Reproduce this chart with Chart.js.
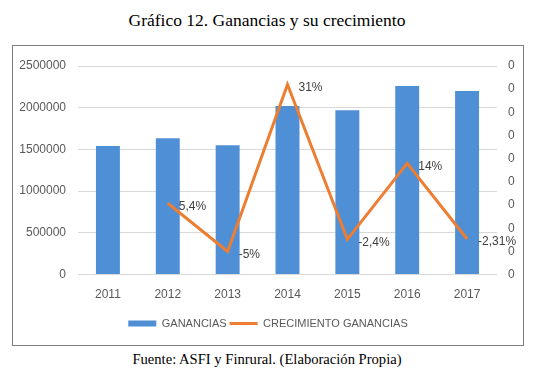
<!DOCTYPE html>
<html>
<head>
<meta charset="utf-8">
<script src="https://cdn.jsdelivr.net/npm/chart.js@4"></script>
<style>
    body { margin: 0; background: #fff; width: 534px; height: 374px; position: relative; overflow: hidden; }
    #title { position: absolute; left: 0; width: 534px; top: 10px; text-align: center;
             font-family: "Liberation Serif", serif; font-size: 17.5px; color: #000; }
    #box { position: absolute; left: 12px; top: 45px; width: 510px; height: 299px; border: 1px solid #7f7f7f; }
    #source { position: absolute; left: 0; width: 534px; top: 351px; text-align: center;
              font-family: "Liberation Serif", serif; font-size: 14.6px; color: #000; }
</style>
</head>
<body>
<div id="title">Gráfico 12. Ganancias y su crecimiento</div>
<div id="box"><canvas id="chart" width="510" height="299"></canvas></div>
<div id="source">Fuente: ASFI y Finrural. (Elaboración Propia)</div>
<script>
// data
const years = ['2011', '2012', '2013', '2014', '2015', '2016', '2017'];
const ganancias = [1540000, 1635000, 1550000, 2020000, 1970000, 2260000, 2200000];
const crecimiento = [null, 0.054, -0.05, 0.31, -0.024, 0.14, -0.0231];
const crecimientoLabels = [null, '5,4%', '-5%', '31%', '-2,4%', '14%', '-2,31%'];

const gray = '#595959';
const font = { family: '"Liberation Sans", Arial, sans-serif', size: 12 };

// draws the percentage label next to each line point
const pointLabels = {
    id: 'pointLabels',
    afterDatasetsDraw(chart) {
        const ctx = chart.ctx;
        const meta = chart.getDatasetMeta(1);
        ctx.save();
        ctx.font = '12px "Liberation Sans", Arial, sans-serif';
        ctx.fillStyle = '#404040';
        ctx.textBaseline = 'middle';
        ctx.textAlign = 'left';
        meta.data.forEach((pt, i) => {
            if (crecimientoLabels[i] == null) return;
            ctx.fillText(crecimientoLabels[i], pt.x + 11, pt.y + 3);
        });
        ctx.restore();
    }
};

new Chart(document.getElementById('chart'), {
    data: {
        labels: years,
        datasets: [
            {
                type: 'bar',
                label: 'GANANCIAS',
                data: ganancias,
                backgroundColor: '#4f8fd5',
                pointStyle: 'rect',
                yAxisID: 'y',
                order: 1,
                barPercentage: 0.8,
                categoryPercentage: 0.5
            },
            {
                type: 'line',
                label: 'CRECIMIENTO GANANCIAS',
                data: crecimiento,
                borderColor: '#ed7d31',
                backgroundColor: '#ed7d31',
                borderWidth: 3,
                pointRadius: 0,
                pointStyle: 'line',
                tension: 0,
                yAxisID: 'y1',
                order: 0
            }
        ]
    },
    options: {
        responsive: false,
        animation: false,
        layout: { padding: { left: 0, right: 0, top: 20, bottom: 6 } },
        plugins: {
            tooltip: { enabled: false },
            legend: {
                position: 'bottom',
                labels: {
                    color: gray,
                    font: { family: font.family, size: 11 },
                    usePointStyle: true,
                    pointStyleWidth: 28,
                    boxWidth: 28,
                    boxHeight: 6,
                    padding: 3,
                    sort: (a, b) => a.datasetIndex - b.datasetIndex
                }
            }
        },
        scales: {
            x: {
                grid: { display: false, drawTicks: false },
                border: { display: false },
                ticks: { color: gray, font: font, padding: 13 }
            },
            y: {
                position: 'left',
                min: 0,
                max: 2500000,
                afterFit: s => { s.width = 65; },
                ticks: { stepSize: 500000, color: gray, font: font, padding: 12, callback: v => String(v) },
                grid: { color: '#d9d9d9', drawTicks: false },
                border: { display: false }
            },
            y1: {
                position: 'right',
                min: -0.1,
                max: 0.35,
                afterFit: s => { s.width = 26; },
                ticks: {
                    stepSize: 0.05,
                    color: gray,
                    font: font,
                    padding: 11,
                    callback: v => String(Math.round(v))
                },
                grid: { display: false, drawTicks: false },
                border: { display: false }
            }
        }
    },
    plugins: [pointLabels]
});
</script>
</body>
</html>
